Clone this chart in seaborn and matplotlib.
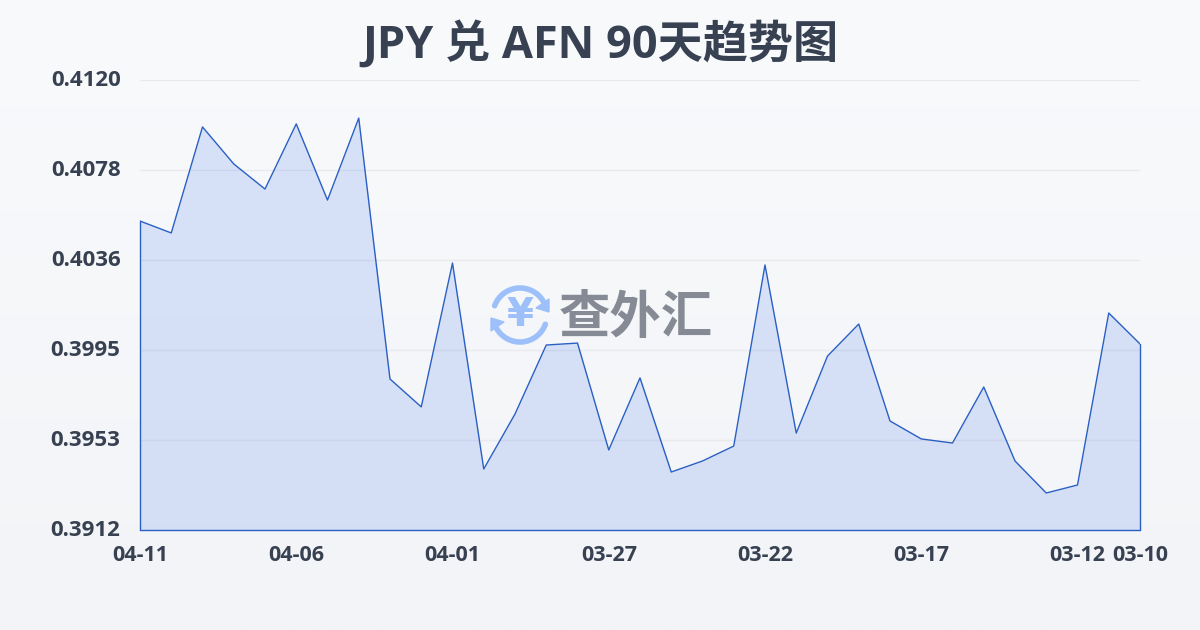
import numpy as np
import pandas as pd
import seaborn as sns
import matplotlib
matplotlib.use('Agg')
import matplotlib.pyplot as plt
from matplotlib.patches import Arc, Polygon

# datas (mais recente primeiro) e cotacao
datas = ['04-11', '04-10', '04-09', '04-08', '04-07', '04-06', '04-05', '04-04', '04-03', '04-02', '04-01',
         '03-31', '03-30', '03-29', '03-28', '03-27', '03-26', '03-25', '03-24', '03-23', '03-22',
         '03-21', '03-20', '03-19', '03-18', '03-17', '03-16', '03-15', '03-14', '03-13', '03-12',
         '03-11', '03-10']
cotacao = [0.40548, 0.40493, 0.40983, 0.40812, 0.40696, 0.40997, 0.40645, 0.41024, 0.39818, 0.39689, 0.40354,
           0.39402, 0.39656, 0.39975, 0.39984, 0.39490, 0.39823, 0.39388, 0.39439, 0.39508, 0.40345,
           0.39568, 0.39924, 0.40072, 0.39624, 0.39541, 0.39522, 0.39781, 0.39439, 0.39291, 0.39328,
           0.40123, 0.39980]
y_ticks = [0.3912, 0.39536, 0.39952, 0.40368, 0.40784, 0.4120]
y_rotulos = ['0.3912', '0.3953', '0.3995', '0.4036', '0.4078', '0.4120']
x_rotulos = ['04-11', '04-06', '04-01', '03-27', '03-22', '03-17', '03-12', '03-10']
titulo = 'JPY 兑 AFN 90天趋势图'
marca = '查外汇'

sns.set_theme(style='white')
plt.rcParams['font.family'] = ['Open Sans', 'Noto Sans CJK SC', 'DejaVu Sans']

df = pd.DataFrame({'data': datas, 'cotacao': cotacao})
escuro = '#374151'
azul = '#2a5fc4'

fig = plt.figure(figsize=(12, 6.3), dpi=100)

# fundo em degrade
fundo = fig.add_axes([0, 0, 1, 1], zorder=0)
fundo.imshow(np.linspace(0, 1, 256).reshape(-1, 1), aspect='auto', extent=(0, 1200, 630, 0),
             cmap=matplotlib.colors.LinearSegmentedColormap.from_list('f', ['#f8fafc', '#f2f4f7']))
fundo.set_xlim(0, 1200)
fundo.set_ylim(630, 0)
fundo.axis('off')

# marca d'agua
cor_logo = '#9dc0fa'
fundo.add_patch(Arc((520, 315), 54, 54, theta1=200, theta2=330, color=cor_logo, lw=4, capstyle='round'))
fundo.add_patch(Arc((520, 315), 54, 54, theta1=20, theta2=150, color=cor_logo, lw=4, capstyle='round'))
fundo.add_patch(Polygon([[549, 299], [549, 312], [536, 308]], color=cor_logo))
fundo.add_patch(Polygon([[491, 318], [491, 331], [504, 322]], color=cor_logo))
fundo.text(520, 315, '¥', color=cor_logo, fontsize=28, fontweight='bold', ha='center', va='center',
           family='DejaVu Sans')
fundo.text(636, 318, marca, color='#858a94', fontsize=37, fontweight='bold', ha='center', va='center',
           family='Noto Sans CJK SC')

ax = fig.add_axes([140 / 1200, 1 - 530 / 630, 1000 / 1200, 450 / 630], zorder=1)
ax.patch.set_alpha(0)
sns.lineplot(data=df, x='data', y='cotacao', sort=False, color=azul, linewidth=1, ax=ax, zorder=3)
ax.fill_between(range(len(datas)), cotacao, 0.3912, color='#2563eb', alpha=0.15, linewidth=0, zorder=2)
ax.plot([0, 0], [0.3912, cotacao[0]], color=azul, lw=1, zorder=3, clip_on=False)
ax.plot([len(datas) - 1] * 2, [0.3912, cotacao[-1]], color=azul, lw=1, zorder=3, clip_on=False)
ax.plot([0, len(datas) - 1], [0.3912, 0.3912], color=azul, lw=1, zorder=3, clip_on=False)

ax.set_xlim(0, len(datas) - 1)
ax.set_ylim(0.3912, 0.4120)
ax.set_xlabel('')
ax.set_ylabel('')
ax.set_yticks(y_ticks)
ax.set_yticklabels(y_rotulos, fontsize=16, fontweight='bold', color=escuro, va='center')
ax.set_xticks([datas.index(d) for d in x_rotulos])
ax.set_xticklabels(x_rotulos, fontsize=15.5, fontweight='bold', color=escuro)
ax.tick_params(axis='y', length=0, pad=14)
ax.tick_params(axis='x', length=10, width=1, color='#e3e6ea', pad=1)
ax.grid(axis='y', color='#e8eaee', linewidth=1)
ax.set_axisbelow(True)
sns.despine(ax=ax, left=True, bottom=True)

fig.text(600 / 1200, 1 - 46 / 630, titulo, fontsize=32.5, fontweight='bold', color=escuro, ha='center', va='center')

fig.savefig('out.png', dpi=100)
